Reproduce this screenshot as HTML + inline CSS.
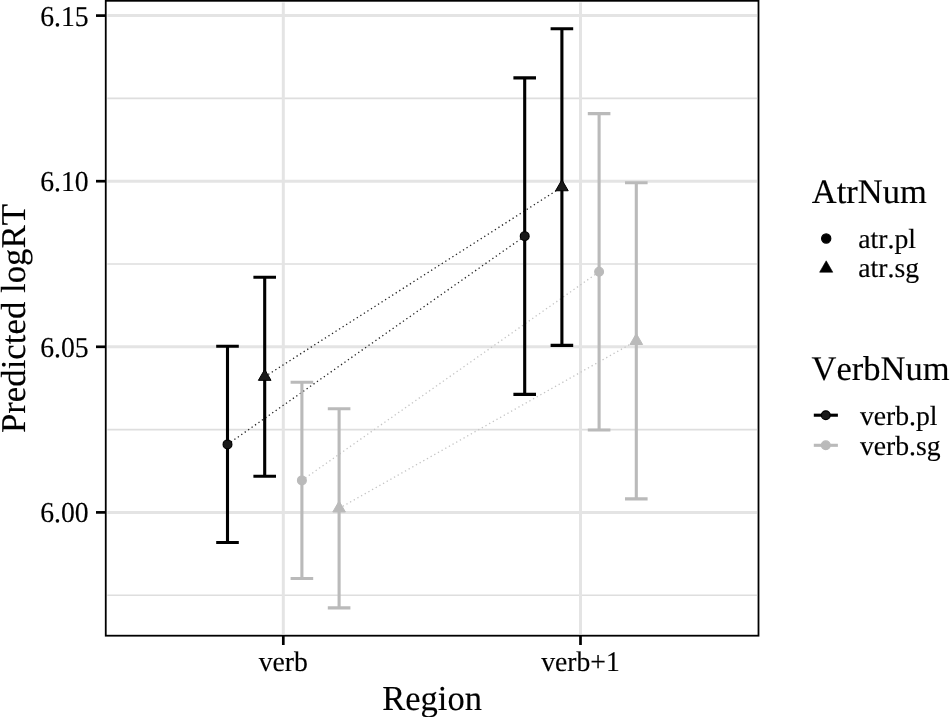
<!DOCTYPE html>
<html><head><meta charset="utf-8"><style>
html,body{margin:0;padding:0;background:#fff;width:950px;height:717px;overflow:hidden;}
svg{display:block;filter:grayscale(1);font-family:"Liberation Serif",serif;font-kerning:none;font-feature-settings:"kern" 0;}
text{font-kerning:none;font-feature-settings:"kern" 0;text-rendering:geometricPrecision;}
</style></head><body>
<svg width="950" height="717" viewBox="0 0 950 717">
<rect x="0" y="0" width="950" height="717" fill="#fff"/>
<line x1="107.35" y1="595.20" x2="756.9" y2="595.20" stroke="#dedede" stroke-width="1.6"/>
<line x1="107.35" y1="429.60" x2="756.9" y2="429.60" stroke="#dedede" stroke-width="1.6"/>
<line x1="107.35" y1="264.00" x2="756.9" y2="264.00" stroke="#dedede" stroke-width="1.6"/>
<line x1="107.35" y1="98.40" x2="756.9" y2="98.40" stroke="#dedede" stroke-width="1.6"/>
<line x1="107.35" y1="512.40" x2="756.9" y2="512.40" stroke="#e4e4e4" stroke-width="3"/>
<line x1="107.35" y1="346.80" x2="756.9" y2="346.80" stroke="#e4e4e4" stroke-width="3"/>
<line x1="107.35" y1="181.20" x2="756.9" y2="181.20" stroke="#e4e4e4" stroke-width="3"/>
<line x1="107.35" y1="15.60" x2="756.9" y2="15.60" stroke="#e4e4e4" stroke-width="3"/>
<line x1="283.3" y1="2.4000000000000004" x2="283.3" y2="634.1" stroke="#e4e4e4" stroke-width="3"/>
<line x1="580.5" y1="2.4000000000000004" x2="580.5" y2="634.1" stroke="#e4e4e4" stroke-width="3"/>
<line x1="227.50" y1="444.40" x2="524.70" y2="236.15" stroke="#222" stroke-width="1.3" stroke-dasharray="1.3 2.9" />
<line x1="264.70" y1="376.70" x2="561.90" y2="187.10" stroke="#222" stroke-width="1.3" stroke-dasharray="1.3 2.9" />
<line x1="301.90" y1="480.40" x2="599.10" y2="271.80" stroke="#c4c4c4" stroke-width="1.3" stroke-dasharray="1.3 2.9" />
<line x1="339.10" y1="508.35" x2="636.30" y2="340.85" stroke="#c4c4c4" stroke-width="1.3" stroke-dasharray="1.3 2.9" />
<path d="M216.20 346.30H238.80M227.50 346.30V542.50M216.20 542.50H238.80" stroke="#000000" stroke-width="3.1" fill="none"/>
<path d="M513.40 77.90H536.00M524.70 77.90V394.40M513.40 394.40H536.00" stroke="#000000" stroke-width="3.1" fill="none"/>
<path d="M253.40 277.20H276.00M264.70 277.20V476.20M253.40 476.20H276.00" stroke="#000000" stroke-width="3.1" fill="none"/>
<path d="M550.60 28.80H573.20M561.90 28.80V345.40M550.60 345.40H573.20" stroke="#000000" stroke-width="3.1" fill="none"/>
<path d="M290.60 382.30H313.20M301.90 382.30V578.50M290.60 578.50H313.20" stroke="#bababa" stroke-width="3.1" fill="none"/>
<path d="M587.80 113.60H610.40M599.10 113.60V430.00M587.80 430.00H610.40" stroke="#bababa" stroke-width="3.1" fill="none"/>
<path d="M327.80 408.80H350.40M339.10 408.80V607.90M327.80 607.90H350.40" stroke="#bababa" stroke-width="3.1" fill="none"/>
<path d="M625.00 182.80H647.60M636.30 182.80V498.90M625.00 498.90H647.60" stroke="#bababa" stroke-width="3.1" fill="none"/>
<circle cx="227.50" cy="444.40" r="4.4" fill="#1a1a1a" stroke="#000000" stroke-width="1.2"/>
<circle cx="524.70" cy="236.15" r="4.4" fill="#1a1a1a" stroke="#000000" stroke-width="1.2"/>
<path d="M264.70 369.40L271.02 380.35L258.38 380.35Z" fill="#1a1a1a" stroke="#000000" stroke-width="1.0" stroke-linejoin="miter"/>
<path d="M561.90 179.80L568.22 190.75L555.58 190.75Z" fill="#1a1a1a" stroke="#000000" stroke-width="1.0" stroke-linejoin="miter"/>
<circle cx="301.90" cy="480.40" r="4.4" fill="#bababa" stroke="#bababa" stroke-width="1.2"/>
<circle cx="599.10" cy="271.80" r="4.4" fill="#bababa" stroke="#bababa" stroke-width="1.2"/>
<path d="M339.10 501.05L345.42 512.00L332.78 512.00Z" fill="#bababa" stroke="#bababa" stroke-width="1.0" stroke-linejoin="miter"/>
<path d="M636.30 333.55L642.62 344.50L629.98 344.50Z" fill="#bababa" stroke="#bababa" stroke-width="1.0" stroke-linejoin="miter"/>
<rect x="105.75" y="0.8" width="652.75" height="634.90" fill="none" stroke="#000" stroke-width="1.8"/>
<line x1="96" y1="512.40" x2="105.75" y2="512.40" stroke="#000" stroke-width="2.7"/>
<line x1="96" y1="346.80" x2="105.75" y2="346.80" stroke="#000" stroke-width="2.7"/>
<line x1="96" y1="181.20" x2="105.75" y2="181.20" stroke="#000" stroke-width="2.7"/>
<line x1="96" y1="15.60" x2="105.75" y2="15.60" stroke="#000" stroke-width="2.7"/>
<line x1="283.3" y1="635.7" x2="283.3" y2="645.0" stroke="#000" stroke-width="2.7"/>
<line x1="580.5" y1="635.7" x2="580.5" y2="645.0" stroke="#000" stroke-width="2.7"/>
<text transform="translate(88.60 522.40) scale(1 1.04)" font-size="27.7" text-anchor="end" fill="#000" stroke="#000" stroke-width="0.15">6.00</text>
<text transform="translate(88.60 356.80) scale(1 1.04)" font-size="27.7" text-anchor="end" fill="#000" stroke="#000" stroke-width="0.15">6.05</text>
<text transform="translate(88.60 191.20) scale(1 1.04)" font-size="27.7" text-anchor="end" fill="#000" stroke="#000" stroke-width="0.15">6.10</text>
<text transform="translate(88.60 25.60) scale(1 1.04)" font-size="27.7" text-anchor="end" fill="#000" stroke="#000" stroke-width="0.15">6.15</text>
<text transform="translate(283.30 671.40) scale(1 1.02)" font-size="27.7" text-anchor="middle" fill="#000" stroke="#000" stroke-width="0.15">verb</text>
<text transform="translate(580.50 671.40) scale(1 1.02)" font-size="27.7" text-anchor="middle" fill="#000" stroke="#000" stroke-width="0.15">verb+1</text>
<text transform="translate(432.12 709.90) scale(1 1.02)" font-size="34.5" text-anchor="middle" fill="#000" stroke="#000" stroke-width="0.15">Region</text>
<text transform="translate(25.10 318.60) rotate(-90)" font-size="34.8" text-anchor="middle" fill="#000" stroke="#000" stroke-width="0.15">Predicted logRT</text>
<text transform="translate(811.80 203.00)" font-size="34.5" fill="#000" stroke="#000" stroke-width="0.15">AtrNum</text>
<circle cx="826.2" cy="238.5" r="4.6" fill="#000" stroke="#000" stroke-width="1.2"/>
<path d="M826.20 260.80L832.78 272.20L819.62 272.20Z" fill="#000" stroke="#000" stroke-width="0.6"/>
<text transform="translate(858.30 247.80)" font-size="27.7" fill="#000" stroke="#000" stroke-width="0.15">atr.pl</text>
<text transform="translate(858.30 277.20)" font-size="27.7" fill="#000" stroke="#000" stroke-width="0.15">atr.sg</text>
<text transform="translate(811.60 380.20)" font-size="34.5" fill="#000" stroke="#000" stroke-width="0.15">VerbNum</text>
<line x1="813.8" y1="415.2" x2="837.9" y2="415.2" stroke="#000" stroke-width="3.1"/>
<circle cx="825.8" cy="415.2" r="4.4" fill="#1a1a1a" stroke="#000" stroke-width="1.2"/>
<line x1="813.8" y1="445.3" x2="837.9" y2="445.3" stroke="#bababa" stroke-width="3.1"/>
<circle cx="825.8" cy="445.3" r="4.4" fill="#bababa" stroke="#bababa" stroke-width="1.2"/>
<text transform="translate(859.90 425.40)" font-size="27.7" fill="#000" stroke="#000" stroke-width="0.15">verb.pl</text>
<text transform="translate(859.90 454.80)" font-size="27.7" fill="#000" stroke="#000" stroke-width="0.15">verb.sg</text>
</svg>
</body></html>
